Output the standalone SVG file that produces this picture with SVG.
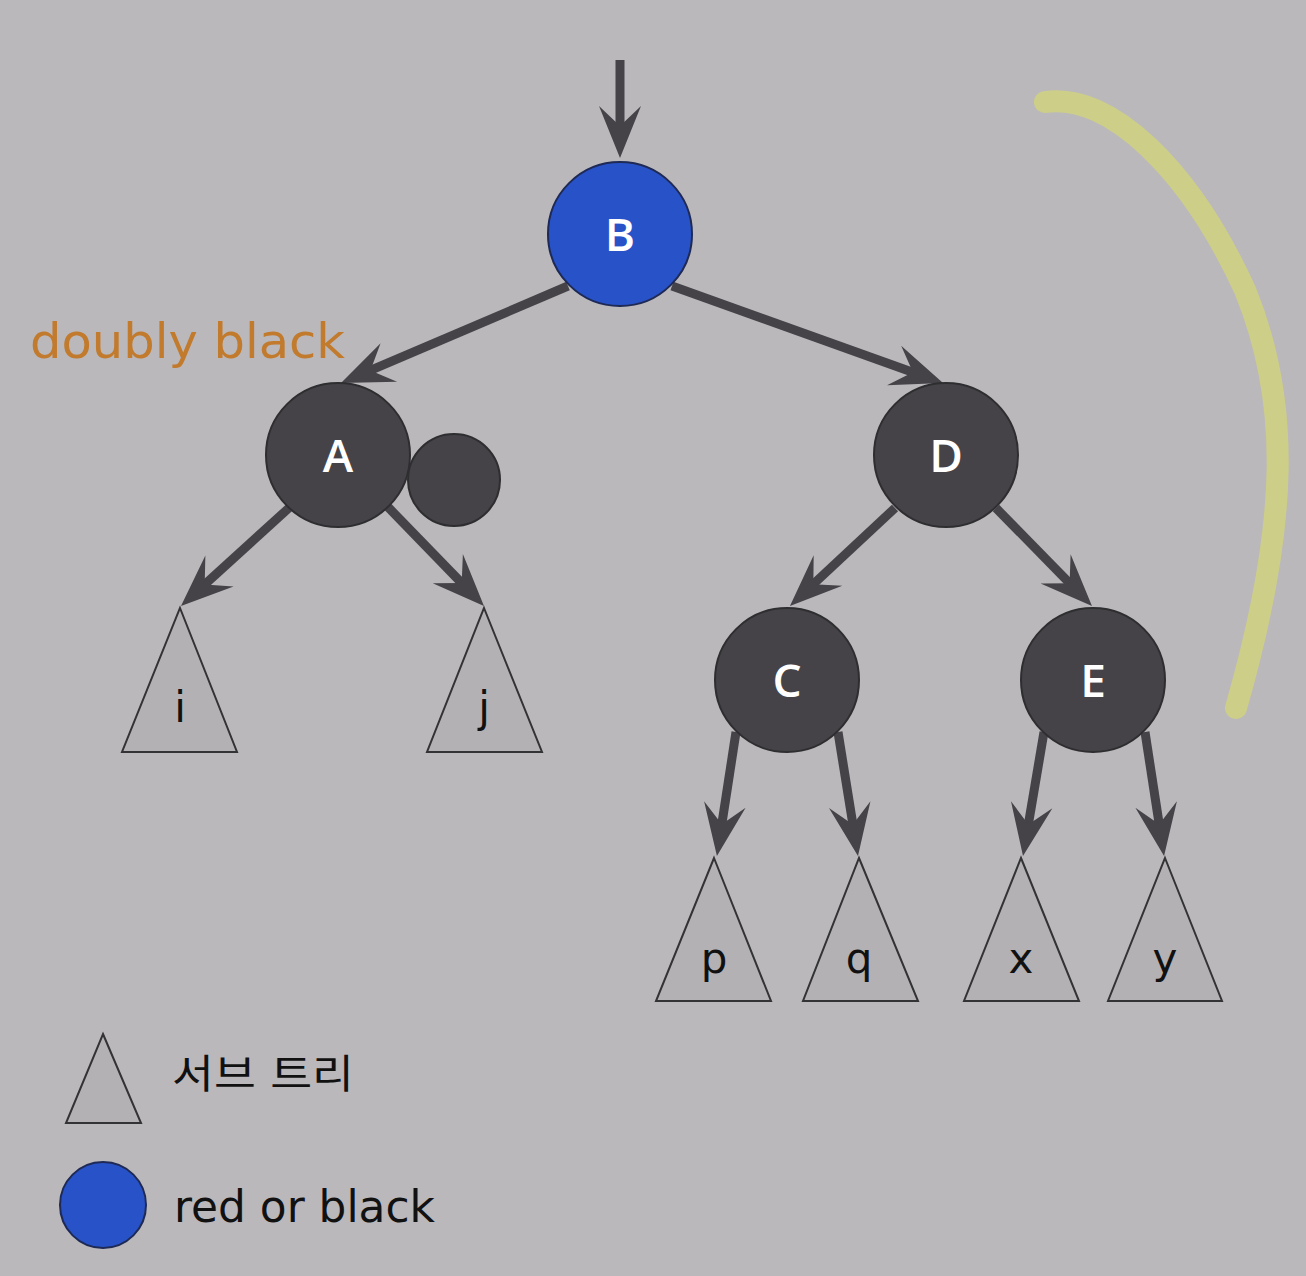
<svg xmlns="http://www.w3.org/2000/svg" width="1306" height="1276" viewBox="0 0 1306 1276">
<style>
.bg{fill:#bab8bb}
.node{fill:#454347;stroke:#2e2d30;stroke-width:2}
.blue{fill:#2852c8;stroke:#1e2a55;stroke-width:2}
.nl{font-family:"Open Sans","DejaVu Sans",sans-serif;font-weight:600;font-size:46px;fill:#ffffff;text-anchor:middle}
.tri{fill:#b3b1b4;stroke:#333235;stroke-width:2;stroke-linejoin:miter}
.tl{font-family:"DejaVu Sans",sans-serif;font-size:42px;fill:#111;text-anchor:middle}
.edge{stroke:#454348;stroke-width:9;fill:none;marker-end:url(#ah)}
.lg{font-family:"DejaVu Sans","Noto Sans CJK KR",sans-serif;fill:#111}
</style>
<defs>
<marker id="ah" markerUnits="userSpaceOnUse" orient="auto" refX="-30" refY="0" markerWidth="10" markerHeight="10" overflow="visible">
<path d="M0,0 L-52,-21 L-32,0 L-52,21 Z" fill="#454348"/>
</marker>
</defs>
<rect class="bg" x="0" y="0" width="1306" height="1276"/>
<path id="highlight" d="M1045,102 C1110,92 1190,170 1245,290 C1290,400 1290,520 1236,708" fill="none" stroke="#cdcf88" stroke-width="22" stroke-linecap="round"/>
<g id="connectors">
<line class="edge" x1="620" y1="60" x2="620" y2="128"/>
<line class="edge" x1="568" y1="286" x2="368.6" y2="371.2"/>
<line class="edge" x1="672" y1="286" x2="914.8" y2="372.9"/>
<line class="edge" x1="290" y1="507" x2="203.2" y2="585.8"/>
<line class="edge" x1="388" y1="507" x2="463.1" y2="584.5"/>
<line class="edge" x1="895" y1="508" x2="811.9" y2="585.5"/>
<line class="edge" x1="996" y1="508" x2="1071" y2="584.6"/>
<line class="edge" x1="736" y1="732" x2="721.5" y2="826.3"/>
<line class="edge" x1="838" y1="732" x2="853.2" y2="826.4"/>
<line class="edge" x1="1044" y1="732" x2="1028" y2="826.4"/>
<line class="edge" x1="1145" y1="732" x2="1159.5" y2="826.3"/>
</g>
<g id="node-B"><circle class="blue" cx="620" cy="234" r="72"/><text class="nl" x="620" y="251">B</text></g>
<g id="node-A"><circle class="node" cx="338" cy="455" r="72"/><text class="nl" x="338" y="472">A</text></g>
<g id="node-extra"><circle class="node" cx="454" cy="480" r="46"/></g>
<g id="node-D"><circle class="node" cx="946" cy="455" r="72"/><text class="nl" x="946" y="472">D</text></g>
<g id="node-C"><circle class="node" cx="787" cy="680" r="72"/><text class="nl" x="787" y="697">C</text></g>
<g id="node-E"><circle class="node" cx="1093" cy="680" r="72"/><text class="nl" x="1093" y="697">E</text></g>
<g id="tree-i"><polygon class="tri" points="180,608 237,752 122,752"/><text class="tl" x="180" y="722">i</text></g>
<g id="tree-j"><polygon class="tri" points="484,608 542,752 427,752"/><text class="tl" x="484" y="722">j</text></g>
<g id="tree-p"><polygon class="tri" points="714,858 771,1001 656,1001"/><text class="tl" x="714" y="973">p</text></g>
<g id="tree-q"><polygon class="tri" points="859,858 918,1001 803,1001"/><text class="tl" x="859" y="973">q</text></g>
<g id="tree-x"><polygon class="tri" points="1021,858 1079,1001 964,1001"/><text class="tl" x="1021" y="973">x</text></g>
<g id="tree-y"><polygon class="tri" points="1165,858 1222,1001 1108,1001"/><text class="tl" x="1165" y="973">y</text></g>
<text id="label-doubly" x="30" y="358" font-family="DejaVu Sans, sans-serif" font-size="48" fill="#c27a2c" textLength="315" lengthAdjust="spacingAndGlyphs">doubly black</text>
<g id="legend">
<polygon class="tri" points="103,1034 141,1123 66,1123"/>
<text class="lg" x="172" y="1088" font-size="40" textLength="182" lengthAdjust="spacingAndGlyphs">서브 트리</text>
<circle class="blue" cx="103" cy="1205" r="43"/>
<text class="lg" x="174" y="1222" font-size="44" textLength="261" lengthAdjust="spacingAndGlyphs">red or black</text>
</g>
</svg>
